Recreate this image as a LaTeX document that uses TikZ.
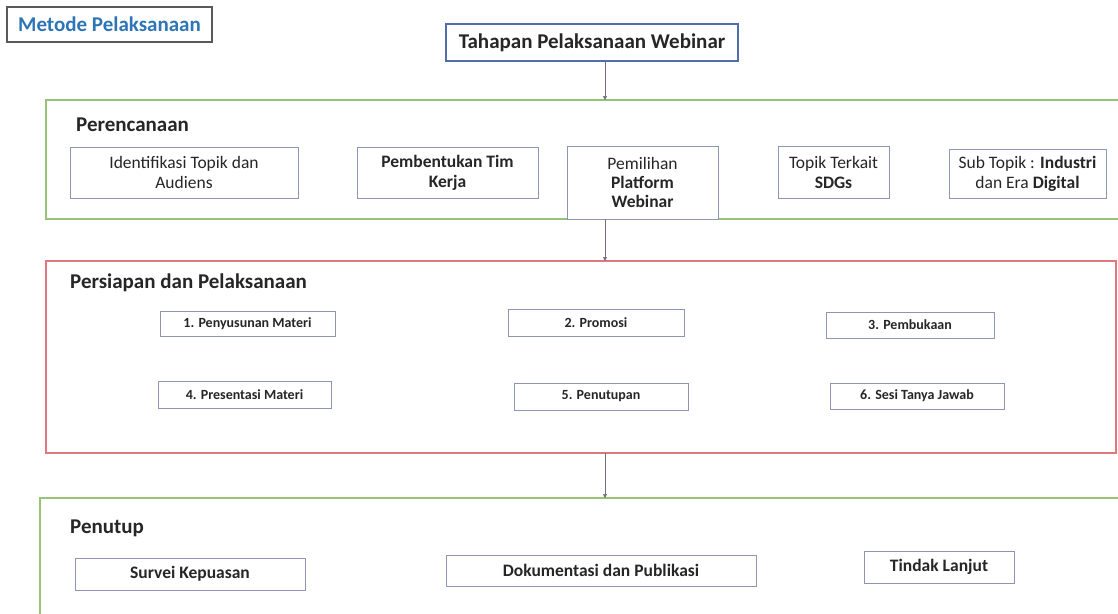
\documentclass[tikz,border=0pt]{standalone}
\usepackage{fontspec}
\setmainfont{Carlito}
\usetikzlibrary{arrows.meta}
\definecolor{txt}{RGB}{38,38,38}
\definecolor{boxline}{RGB}{140,150,178}
\definecolor{grn}{RGB}{150,195,120}
\definecolor{rd}{RGB}{225,120,125}
\definecolor{ttl}{RGB}{46,117,182}
\definecolor{tahap}{RGB}{80,110,170}
\definecolor{arr}{RGB}{120,110,130}
\definecolor{frm}{RGB}{90,90,90}
\tikzset{
  box/.style={draw=boxline, line width=1pt, fill=white, inner sep=2pt, align=center, text=txt},
  smallbox/.style={box, font=\fontsize{14}{16}\selectfont\bfseries},
  endbox/.style={box, font=\fontsize{17.5}{19}\selectfont\bfseries},
  topbox/.style={box, font=\fontsize{17.5}{20}\selectfont},
  group/.style={line width=1.4pt, fill=white},
  grouplabel/.style={anchor=west, text=txt, font=\fontsize{21}{23}\selectfont\bfseries, inner sep=0pt},
  flow/.style={draw=arr, line width=0.6pt, -{Triangle[length=4pt,width=4pt]}},
}
\begin{document}
\begin{tikzpicture}[x=1pt,y=-1pt]
\useasboundingbox[fill=white] (0,0) rectangle (1118,613);
% group frames
\draw[group, draw=grn] (46,100) rectangle (1124,219);
\draw[group, draw=rd] (46,261) rectangle (1116,453);
\draw[group, draw=grn] (40,498) rectangle (1124,620);
\coordinate (g1top) at (605,100);
\coordinate (g1bot) at (605,219);
\coordinate (g2top) at (605,261);
\coordinate (g2bot) at (605,453);
\coordinate (g3top) at (605,498);
% title boxes
\node[draw=frm, line width=1.2pt, minimum width=205pt, minimum height=35pt, inner sep=0pt,
  text=ttl, font=\fontsize{21}{23}\selectfont\bfseries] (metode) at (109.5,24.5) {Metode Pelaksanaan};
\node[draw=tahap, line width=1.6pt, minimum width=292pt, minimum height=37pt, inner sep=0pt,
  text=txt, font=\fontsize{21}{23}\selectfont\bfseries] (tahap) at (592,42.5) {Tahapan Pelaksanaan Webinar};
% labels
\node[grouplabel] (lbl1) at (76,125) {Perencanaan};
\node[grouplabel] (lbl2) at (70,283) {Persiapan dan Pelaksanaan};
\node[grouplabel] (lbl3) at (70,528) {Penutup};
% Perencanaan boxes
\node[topbox, minimum width=228pt, minimum height=51pt] (p1) at (184,172.5) {Identifikasi Topik dan\\Audiens};
\node[topbox, minimum width=181pt, minimum height=51pt, font=\fontsize{17.5}{20}\selectfont\bfseries] (p2) at (447.5,172.5) {Pembentukan Tim\\Kerja};
\node[topbox, minimum width=151pt, minimum height=73pt, font=\fontsize{17.5}{19}\selectfont] (p3) at (642.5,182.5) {Pemilihan\\\textbf{Platform}\\\textbf{Webinar}};
\node[topbox, minimum width=111pt, minimum height=52pt] (p4) at (833.5,172) {Topik Terkait\\\textbf{SDGs}};
\node[topbox, minimum width=157pt, minimum height=49pt] (p5) at (1027.5,173.5) {Sub Topik : \textbf{Industri}\\dan Era \textbf{Digital}};
% Persiapan boxes
\node[smallbox, minimum width=175pt, minimum height=25pt] (s1) at (247.5,323.5) {1. Penyusunan Materi};
\node[smallbox, minimum width=176pt, minimum height=27pt] (s2) at (596,322.5) {2. Promosi};
\node[smallbox, minimum width=168pt, minimum height=26pt] (s3) at (910,325) {3. Pembukaan};
\node[smallbox, minimum width=173pt, minimum height=27pt] (s4) at (244.5,394.5) {4. Presentasi Materi};
\node[smallbox, minimum width=174pt, minimum height=27pt] (s5) at (601,396.5) {5. Penutupan};
\node[smallbox, minimum width=174pt, minimum height=26pt] (s6) at (917,396) {6. Sesi Tanya Jawab};
% Penutup boxes
\node[endbox, minimum width=230pt, minimum height=32pt] (e1) at (190,574) {Survei Kepuasan};
\node[endbox, minimum width=310pt, minimum height=31pt] (e2) at (601,570.5) {Dokumentasi dan Publikasi};
\node[endbox, minimum width=150pt, minimum height=32pt] (e3) at (939,567) {Tindak Lanjut};
% connectors
\draw[flow] (tahap.south -| g1top) -- (g1top);
\draw[flow] (g1bot) -- (g2top);
\draw[flow] (g2bot) -- (g3top);
\end{tikzpicture}
\end{document}
